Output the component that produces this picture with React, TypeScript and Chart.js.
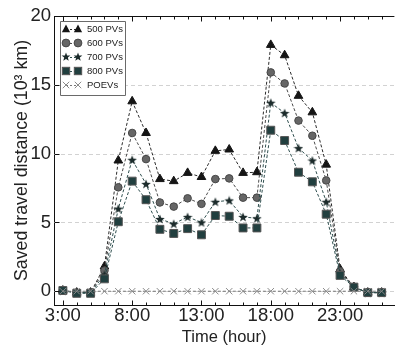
import React, { useEffect, useRef } from 'react';
import { Chart, registerables } from 'chart.js';

Chart.register(...registerables);

const hours = [3, 4, 5, 6, 7, 8, 9, 10, 11, 12, 13, 14, 15, 16, 17, 18, 19, 20, 21, 22, 23, 24, 25, 26];
const pv500 = [0.05, -0.1, -0.1, 1.8, 9.5, 13.8, 11.5, 8.15, 8.0, 8.6, 8.3, 10.2, 10.3, 8.6, 8.65, 17.9, 17.15, 14.2, 13.0, 9.2, 1.6, 0.3, -0.1, -0.1];
const pv600 = [0.05, -0.1, -0.1, 1.5, 7.55, 11.5, 9.6, 6.45, 6.15, 6.75, 6.35, 8.15, 8.2, 6.8, 6.8, 15.9, 15.1, 12.4, 11.3, 8.05, 1.45, 0.3, -0.1, -0.1];
const pv700 = [0.05, -0.1, -0.1, 1.2, 6.0, 9.55, 7.8, 5.25, 4.9, 5.4, 5.0, 6.5, 6.6, 5.4, 5.3, 13.7, 12.95, 10.4, 9.5, 6.5, 1.3, 0.3, -0.1, -0.1];
const pv800 = [0.05, -0.15, -0.15, 0.9, 5.05, 8.0, 6.65, 4.5, 4.2, 4.55, 4.1, 5.5, 5.45, 4.6, 4.6, 11.7, 10.95, 8.65, 7.95, 5.6, 1.15, 0.3, -0.1, -0.1];
const poevs = [0, 0, 0, 0, 0, 0, 0, 0, 0, 0, 0, 0, 0, 0, 0, 0, 0, 0, 0, 0, 0, 0, 0, 0];

const seriesLabels = ['500 PVs', '600 PVs', '700 PVs', '800 PVs', 'POEVs'];
const xTickHours = [3, 8, 13, 18, 23];
const yTickValues = [0, 5, 10, 15, 20];
const xTitle = 'Time (hour)';
const yTitle = 'Saved travel distance (10\u00B3 km)';

const FONT = "'Liberation Sans', Arial, Helvetica, sans-serif";

type Kind = 'triangle' | 'circle' | 'star' | 'rect' | 'x';

const styles: { kind: Kind; fill: string; edge: string; line: string }[] = [
  { kind: 'triangle', fill: '#151515', edge: '#151515', line: '#2a2a2a' },
  { kind: 'circle', fill: '#666666', edge: '#474747', line: '#4a4a4a' },
  { kind: 'star', fill: '#1c2b2b', edge: '#1c2b2b', line: '#2f4f4f' },
  { kind: 'rect', fill: '#213f3f', edge: '#555555', line: '#2f4f4f' },
  { kind: 'x', fill: '#8a8a8a', edge: '#8a8a8a', line: '#777777' },
];

function starPath(g: CanvasRenderingContext2D, cx: number, cy: number, ro: number, ri: number) {
  g.beginPath();
  for (let i = 0; i < 10; i++) {
    const r = i % 2 === 0 ? ro : ri;
    const a = -Math.PI / 2 + (i * Math.PI) / 5;
    const px = cx + r * Math.cos(a);
    const py = cy + r * Math.sin(a);
    if (i === 0) g.moveTo(px, py);
    else g.lineTo(px, py);
  }
  g.closePath();
}

function makeStar(size: number, fill: string) {
  const c = document.createElement('canvas');
  c.width = size;
  c.height = size;
  const g = c.getContext('2d')!;
  starPath(g, size / 2, size / 2 + 0.5, size / 2, size / 4.8);
  g.fillStyle = fill;
  g.fill();
  return c;
}

function drawMarker(ctx: CanvasRenderingContext2D, s: typeof styles[number], x: number, y: number, r: number) {
  ctx.save();
  ctx.fillStyle = s.fill;
  ctx.strokeStyle = s.edge;
  ctx.lineWidth = 1;
  ctx.setLineDash([]);
  if (s.kind === 'triangle') {
    ctx.beginPath();
    ctx.moveTo(x, y - r);
    ctx.lineTo(x + r * 0.9, y + r * 0.7);
    ctx.lineTo(x - r * 0.9, y + r * 0.7);
    ctx.closePath();
    ctx.fill();
  } else if (s.kind === 'circle') {
    ctx.beginPath();
    ctx.arc(x, y, r * 0.85, 0, Math.PI * 2);
    ctx.fill();
    ctx.stroke();
  } else if (s.kind === 'star') {
    starPath(ctx, x, y, r, r * 0.42);
    ctx.fill();
  } else if (s.kind === 'rect') {
    ctx.fillRect(x - r * 0.8, y - r * 0.8, r * 1.6, r * 1.6);
    ctx.strokeRect(x - r * 0.8, y - r * 0.8, r * 1.6, r * 1.6);
  } else {
    ctx.beginPath();
    ctx.moveTo(x - r * 0.7, y - r * 0.7);
    ctx.lineTo(x + r * 0.7, y + r * 0.7);
    ctx.moveTo(x + r * 0.7, y - r * 0.7);
    ctx.lineTo(x - r * 0.7, y + r * 0.7);
    ctx.stroke();
  }
  ctx.restore();
}

const framePlugin = {
  id: 'frame',
  beforeDatasetsDraw(chart: any) {
    const { ctx, chartArea } = chart;
    const y = chart.scales.y;
    ctx.save();
    ctx.strokeStyle = '#d2d2d2';
    ctx.lineWidth = 1;
    ctx.setLineDash([4, 3]);
    for (const v of [0, 5, 10, 15]) {
      const py = Math.round(y.getPixelForValue(v)) + 0.5;
      ctx.beginPath();
      ctx.moveTo(chartArea.left, py);
      ctx.lineTo(chartArea.right, py);
      ctx.stroke();
    }
    ctx.restore();
  },
  afterDraw(chart: any) {
    const { ctx, chartArea } = chart;
    const xs = chart.scales.x;
    const ys = chart.scales.y;
    ctx.save();
    ctx.strokeStyle = '#111';
    ctx.lineWidth = 1;
    ctx.setLineDash([]);
    const top = Math.round(chartArea.top) + 0.5;
    const bottom = Math.round(chartArea.bottom) + 0.5;
    ctx.beginPath();
    ctx.moveTo(chartArea.left, top);
    ctx.lineTo(chartArea.right, top);
    ctx.stroke();
    for (const h of hours) {
      const px = Math.round(xs.getPixelForValue(h)) + 0.5;
      const len = xTickHours.includes(h) ? 5 : 3;
      ctx.beginPath();
      ctx.moveTo(px, bottom);
      ctx.lineTo(px, bottom - len);
      ctx.moveTo(px, top);
      ctx.lineTo(px, top + len);
      ctx.stroke();
    }
    const left = Math.round(chartArea.left) + 0.5;
    for (const v of yTickValues) {
      const py = Math.round(ys.getPixelForValue(v)) + 0.5;
      ctx.beginPath();
      ctx.moveTo(left, py);
      ctx.lineTo(left + 5, py);
      ctx.stroke();
    }
    const bx = 60.5, by = 21.5, bw = 65, bh = 74;
    ctx.fillStyle = '#ffffff';
    ctx.strokeStyle = '#6a6a6a';
    ctx.beginPath();
    ctx.rect(bx, by, bw, bh);
    ctx.fill();
    ctx.stroke();
    styles.forEach((s, i) => {
      const ry = 29 + i * 14;
      ctx.save();
      ctx.strokeStyle = s.line;
      ctx.setLineDash([2, 2]);
      ctx.beginPath();
      ctx.moveTo(66, ry + 0.5);
      ctx.lineTo(78, ry + 0.5);
      ctx.stroke();
      ctx.restore();
      drawMarker(ctx, s, 66, ry, 4.6);
      drawMarker(ctx, s, 78, ry, 4.6);
      ctx.fillStyle = '#222';
      ctx.font = `9.5px ${FONT}`;
      ctx.textBaseline = 'middle';
      ctx.textAlign = 'left';
      ctx.fillText(seriesLabels[i], 87, ry + 0.5);
    });
    ctx.restore();
  },
};

export default function App() {
  const ref = useRef<HTMLCanvasElement>(null);
  useEffect(() => {
    document.body.style.margin = '0';
    const canvas = ref.current!;
    const star = makeStar(10, styles[2].fill);
    const series = [pv500, pv600, pv700, pv800, poevs];
    const pointOpts = [
      { pointStyle: 'triangle', pointRadius: 5 },
      { pointStyle: 'circle', pointRadius: 3.8 },
      { pointStyle: star, pointRadius: 5 },
      { pointStyle: 'rect', pointRadius: 5.6 },
      { pointStyle: 'crossRot', pointRadius: 4.5 },
    ];
    const datasets = series.map((vals, i) => ({
      label: seriesLabels[i],
      data: hours.map((h, j) => ({ x: h, y: vals[j] })),
      showLine: true,
      fill: false,
      tension: 0,
      borderColor: styles[i].line,
      borderWidth: 1,
      borderDash: [3, 2],
      pointBackgroundColor: styles[i].fill,
      pointBorderColor: styles[i].edge,
      pointBorderWidth: 1,
      order: 5 - i,
      ...pointOpts[i],
    }));
    const chart = new Chart(canvas, {
      type: 'line',
      data: { datasets: datasets as any },
      options: {
        animation: false,
        responsive: false,
        devicePixelRatio: 1,
        layout: { padding: { top: 16, right: 0, left: 0, bottom: 0 } },
        plugins: { legend: { display: false }, tooltip: { enabled: false } },
        scales: {
          x: {
            type: 'linear',
            min: 2.36,
            max: 26.92,
            afterBuildTicks: (s: any) => {
              s.ticks = xTickHours.map((v) => ({ value: v }));
            },
            afterFit: (s: any) => {
              s.height = 42;
            },
            grid: { display: false, drawTicks: false },
            border: { display: true, color: '#111', width: 1 },
            ticks: {
              color: '#222',
              font: { family: FONT, size: 18.5 },
              padding: 0,
              maxRotation: 0,
              autoSkip: false,
              callback: (v: any) => `${v}:00`,
            },
            title: {
              display: true,
              text: xTitle,
              color: '#222',
              font: { family: FONT, size: 16.5 },
              padding: { top: 0, bottom: 0 },
            },
          },
          y: {
            min: -1,
            max: 20,
            afterBuildTicks: (s: any) => {
              s.ticks = yTickValues.map((v) => ({ value: v }));
            },
            afterFit: (s: any) => {
              s.width = 54;
            },
            grid: { display: false, drawTicks: false },
            border: { display: true, color: '#111', width: 1 },
            ticks: {
              color: '#222',
              font: { family: FONT, size: 18.5 },
              padding: 3,
            },
            title: {
              display: true,
              text: yTitle,
              color: '#222',
              font: { family: FONT, size: 17.8 },
              padding: { top: 11, bottom: 0 },
            },
          },
        },
      },
      plugins: [framePlugin],
    });
    return () => chart.destroy();
  }, []);
  return (
    <div style={{ width: 401, height: 347 }}>
      <canvas ref={ref} width={401} height={347} style={{ display: 'block' }} />
    </div>
  );
}
